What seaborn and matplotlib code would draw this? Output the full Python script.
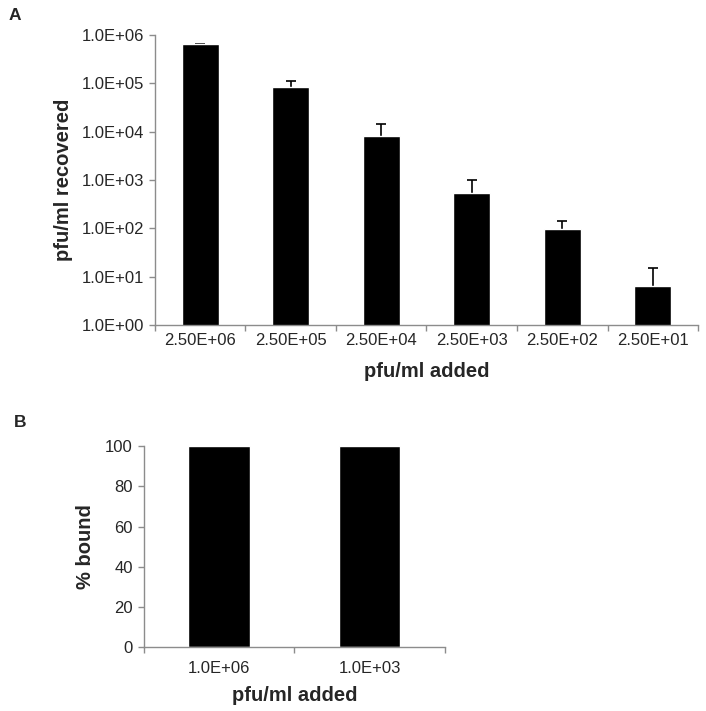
import numpy as np
import pandas as pd
import seaborn as sns
import matplotlib as mpl
import matplotlib.pyplot as plt
import matplotlib.ticker as tkr

mpl.use('Agg')

# panel A data
added_a = ['2.50E+06', '2.50E+05', '2.50E+04', '2.50E+03', '2.50E+02', '2.50E+01']
recovered = [6.4e5, 8.5e4, 8.0e3, 5.5e2, 95, 6.4]
recovered_err_top = [6.5e5, 1.1e5, 1.46e4, 9.8e2, 140, 15.3]

# panel B data
added_b = ['1.0E+06', '1.0E+03']
bound = [100, 100]

sns.set_style('white')
plt.rcParams['font.family'] = ['Liberation Sans', 'DejaVu Sans']

grey = '#8c8c8c'
tick_fs = 12
label_fs = 14.5


def style_axes(ax, n, xpad):
    sns.despine(ax=ax)
    for side in ['left', 'bottom']:
        ax.spines[side].set_color(grey)
        ax.spines[side].set_linewidth(1.0)
    ax.set_xlim(-0.5, n - 0.5)
    ax.set_xticks(np.arange(-0.5, n, 1.0), minor=True)
    ax.tick_params(axis='x', which='major', length=0, pad=xpad, labelsize=tick_fs)
    ax.tick_params(axis='x', which='minor', length=4, width=1, color=grey,
                   direction='out', bottom=True)
    ax.tick_params(axis='y', which='major', length=4, width=1, color=grey,
                   direction='out', left=True, pad=4, labelsize=tick_fs)
    ax.tick_params(axis='y', which='minor', left=False)


fig = plt.figure(figsize=(7.06, 7.11), dpi=100)

# ---- panel A
ax1 = fig.add_axes([0.2195, 0.5429, 0.7692, 0.4079])
df_a = pd.DataFrame({'added': added_a, 'recovered': recovered})
sns.barplot(data=df_a, x='added', y='recovered', color='black',
            width=0.41, saturation=1, ax=ax1, zorder=2)
ax1.set_yscale('log')
vals = np.array(recovered)
upper = np.array(recovered_err_top) - vals
eb = ax1.errorbar(np.arange(len(vals)), vals, yerr=[np.zeros_like(vals), upper],
                  fmt='none', ecolor='black', elinewidth=1.2, capsize=3.5,
                  capthick=1.2, zorder=1)
# only the upper cap is shown (Excel "plus" error bars)
for cap in eb[1]:
    if np.allclose(cap.get_ydata(), vals):
        cap.set_visible(False)
ax1.set_ylim(1, 1e6)
ax1.yaxis.set_major_locator(tkr.LogLocator(base=10, numticks=10))
ax1.yaxis.set_minor_locator(tkr.NullLocator())
ax1.yaxis.set_major_formatter(tkr.FuncFormatter(lambda v, p: f'{v:.1E}'))
style_axes(ax1, len(added_a), 6)
ax1.set_xlabel('pfu/ml added', fontsize=label_fs, fontweight='bold', labelpad=10)
ax1.set_ylabel('pfu/ml recovered', fontsize=label_fs, fontweight='bold', labelpad=6)

# ---- panel B
ax2 = fig.add_axes([0.204, 0.0896, 0.426, 0.2831])
df_b = pd.DataFrame({'added': added_b, 'bound': bound})
sns.barplot(data=df_b, x='added', y='bound', color='black',
            width=0.41, saturation=1, ax=ax2)
ax2.set_ylim(0, 100)
ax2.set_yticks(np.arange(0, 101, 20))
style_axes(ax2, len(added_b), 10)
ax2.set_xlabel('pfu/ml added', fontsize=label_fs, fontweight='bold', labelpad=7)
ax2.set_ylabel('% bound', fontsize=label_fs, fontweight='bold', labelpad=7)

fig.text(0.012, 0.978, 'A', fontsize=12.5, fontweight='bold', va='center')
fig.text(0.02, 0.406, 'B', fontsize=12.5, fontweight='bold', va='center')

fig.savefig('out.png', dpi=100, facecolor='white')
